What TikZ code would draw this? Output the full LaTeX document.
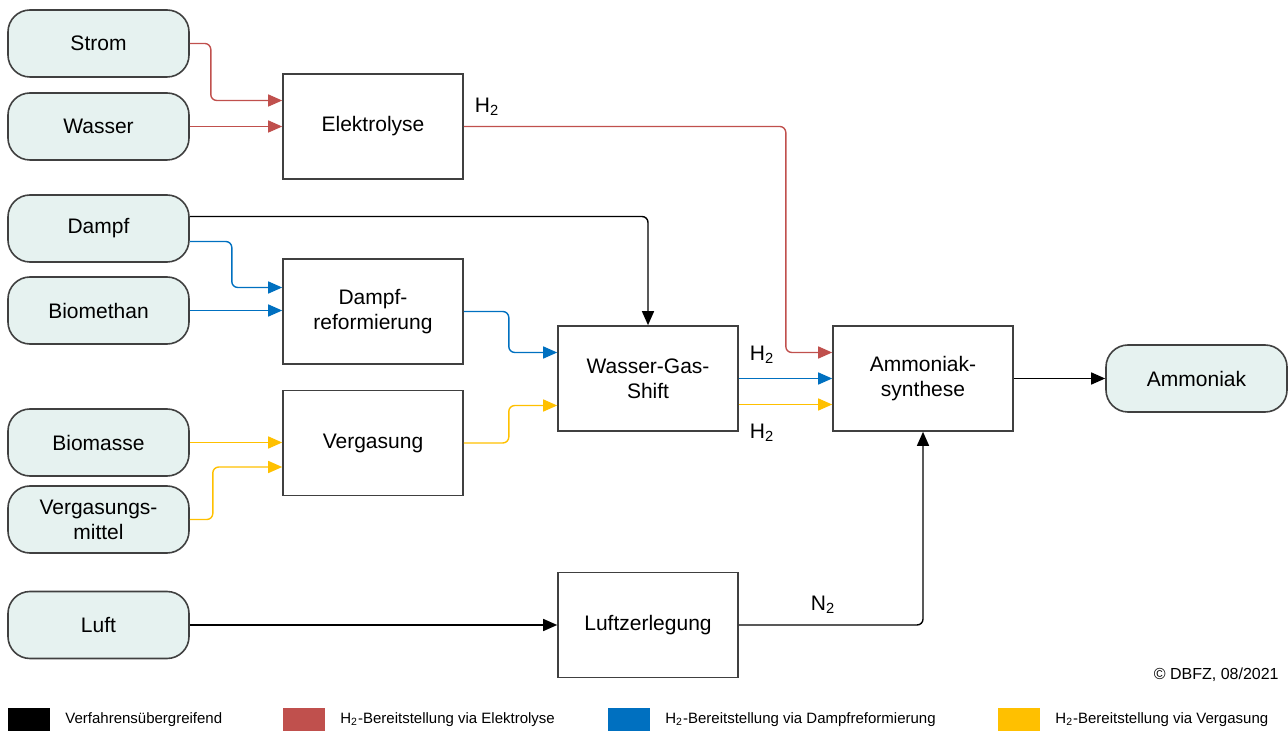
\documentclass[tikz,border=0pt]{standalone}
\usepackage{fontspec}
\setmainfont{Liberation Sans}
\usepackage{tikz}
\usetikzlibrary{arrows.meta,positioning}
\definecolor{elred}{RGB}{192,80,77}
\definecolor{drblue}{RGB}{0,112,192}
\definecolor{vgyellow}{RGB}{255,192,0}
\definecolor{feedfill}{RGB}{230,242,240}
\definecolor{edge}{RGB}{64,64,64}
\tikzset{
  feed/.style={draw=edge, line width=0.8pt, rounded corners=11pt, fill=feedfill, minimum width=90.5pt, minimum height=33.5pt, align=center, font=\fontsize{10.5}{12.5}\selectfont},
  proc/.style={draw=edge, line width=0.8pt, fill=white, minimum width=90pt, minimum height=52.5pt, align=center, font=\fontsize{10.5}{12.5}\selectfont},
  flow/.style={-{Triangle[length=7pt,width=6pt]}, line width=0.7pt, rounded corners=3pt},
  lbl/.style={font=\fontsize{10.5}{12.5}\selectfont, inner sep=1pt},
  key/.style={minimum width=21pt, minimum height=11.5pt, inner sep=0pt},
  keytxt/.style={anchor=west, font=\fontsize{7.5}{9}\selectfont, inner sep=0pt}
}
\newcommand{\Hz}{H\textsubscript{2}}

\begin{document}
\begin{tikzpicture}[x=0.5pt, y=-0.5pt]
\useasboundingbox (0,0) rectangle (1288,731);
% feedstocks
\node[feed] (strom) at (98.5,43.5) {Strom};
\node[feed] (wasser) at (98.5,126.5) {Wasser};
\node[feed] (dampf) at (98.5,228.5) {Dampf};
\node[feed] (bmeth) at (98.5,310.5) {Biomethan};
\node[feed] (bmasse) at (98.5,442.5) {Biomasse};
\node[feed] (vgm) at (98.5,519.5) {Vergasungs-\\mittel};
\node[feed] (luft) at (98.5,625) {Luft};
\node[feed] (nh3) at (1196.5,378.5) {Ammoniak};
% processes
\node[proc] (elek) at (373,126.5) {Elektrolyse};
\node[proc] (dref) at (373,311.5) {Dampf-\\reformierung};
\node[proc] (verg) at (373,443) {Vergasung};
\node[proc] (wgs) at (648,378.5) {Wasser-Gas-\\Shift};
\node[proc] (ams) at (923,378.5) {Ammoniak-\\synthese};
\node[proc] (lzer) at (648,625) {Luftzerlegung};
% electrolysis route
\draw[flow, elred] (strom.east) -- ++(21,0) |- ([yshift=13pt]elek.west);
\draw[flow, elred] (wasser.east) -- (wasser.east -| elek.west);
\draw[flow, elred] (elek.east) -- ++(322,0) |- ([yshift=13pt]ams.west);
\node[lbl] (h2a) at (487,107) {\Hz};
% steam reforming route
\draw[flow] ([yshift=6pt]dampf.east) -| (wgs.north);
\draw[flow, drblue] ([yshift=-6.5pt]dampf.east) -- ++(42,0) |- ([yshift=12pt]dref.west);
\draw[flow, drblue] (bmeth.east) -- (bmeth.east -| dref.west);
\draw[flow, drblue] (dref.east) -- ++(45,0) |- ([yshift=13pt]wgs.west);
\draw[flow, drblue] (wgs.east) -- (ams.west);
\node[lbl] (h2b) at (762,355) {\Hz};
% gasification route
\draw[flow, vgyellow] (bmasse.east) -- (bmasse.east -| verg.west);
\draw[flow, vgyellow] (vgm.east) -- ++(23,0) |- ([yshift=-12pt]verg.west);
\draw[flow, vgyellow] (verg.east) -- ++(45,0) |- ([yshift=-13.5pt]wgs.west);
\draw[flow, vgyellow] ([yshift=-13pt]wgs.east) -- ([yshift=-13pt]ams.west);
\node[lbl] (h2c) at (762,433) {\Hz};
% air separation and product
\draw[flow] (luft.east) -- (lzer.west);
\draw[flow] (lzer.east) -| (ams.south);
\node[lbl] (n2) at (823,605) {N\textsubscript{2}};
\draw[flow] (ams.east) -- (nh3.west);
\node[anchor=east, font=\fontsize{8}{9}\selectfont, inner sep=0pt] (copy) at (1279,675) {© DBFZ, 08/2021};
% legend
\node[key, fill=black] (k1) at (29,719.5) {};
\node[keytxt] (t1) at (65,719.5) {Verfahrensübergreifend};
\node[key, fill=elred] (k2) at (304,719.5) {};
\node[keytxt] (t2) at (340,719.5) {\Hz-Bereitstellung via Elektrolyse};
\node[key, fill=drblue] (k3) at (628.5,719.5) {};
\node[keytxt] (t3) at (665,719.5) {\Hz-Bereitstellung via Dampfreformierung};
\node[key, fill=vgyellow] (k4) at (1019,719.5) {};
\node[keytxt] (t4) at (1055,719.5) {\Hz-Bereitstellung via Vergasung};
\end{tikzpicture}
\end{document}
